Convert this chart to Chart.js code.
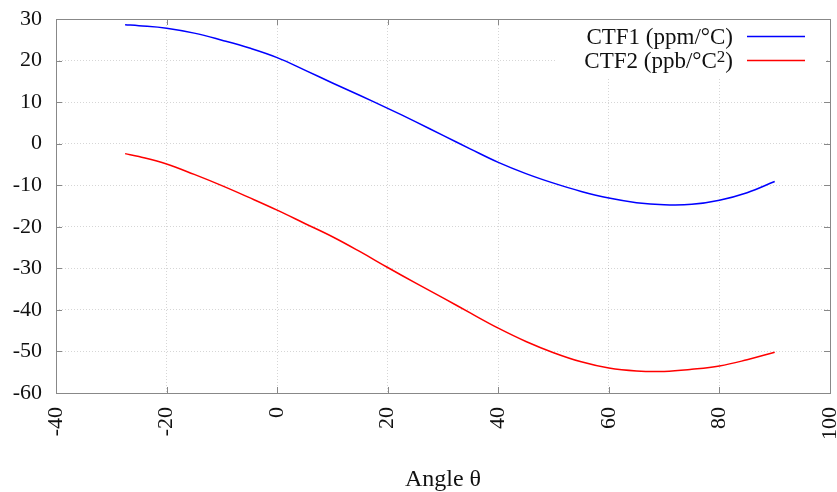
<!DOCTYPE html>
<html>
<head>
<meta charset="utf-8">
<script src="https://cdn.jsdelivr.net/npm/chart.js@4/dist/chart.umd.min.js"></script>
<style>
  html, body { margin: 0; padding: 0; background: #fff; }
  #wrap { width: 837px; height: 492px; }
</style>
</head>
<body>
<div id="wrap"><canvas id="ctf_chart" width="837" height="492"></canvas></div>
<script>
// values
const angle = [-27.5, -25, -20, -15, -10, -5, 0, 5, 10, 15, 20, 25, 30, 35, 40, 45, 50, 55, 60, 65, 70, 75, 80, 85, 90];
const ctf1 = [28.6, 28.4, 27.8, 26.6, 24.9, 23.0, 20.7, 17.7, 14.6, 11.6, 8.5, 5.3, 2.0, -1.3, -4.5, -7.2, -9.5, -11.5, -13.1, -14.2, -14.7, -14.6, -13.6, -11.8, -9.1];
const ctf2 = [-2.4, -3.1, -4.9, -7.4, -10.1, -13.0, -16.0, -19.2, -22.4, -26.0, -29.8, -33.5, -37.1, -40.8, -44.4, -47.6, -50.3, -52.5, -54.0, -54.7, -54.8, -54.3, -53.5, -52.0, -50.2];
const x_ticks = [-40, -20, 0, 20, 40, 60, 80, 100];
const y_ticks = [-60, -50, -40, -30, -20, -10, 0, 10, 20, 30];
const series_labels = ['CTF1 (ppm/°C', 'CTF2 (ppb/°C'];
const series_sup = ['', '2'];
const series_colors = ['#0000ff', '#ff0000'];

const serif = '"Liberation Serif", "Times New Roman", serif';
const frame_color = '#888888';

function to_points(xs, ys) {
    return xs.map((x, i) => ({ x: x, y: ys[i] }));
}

// gnuplot style frame, inward ticks and legend box inside the plot
const frame_plugin = {
    id: 'frame_plugin',
    afterDraw(chart) {
        const ctx = chart.ctx;
        const area = chart.chartArea;
        const xs = chart.scales.x;
        const ys = chart.scales.y;
        ctx.save();
        ctx.strokeStyle = frame_color;
        ctx.lineWidth = 1;
        ctx.beginPath();
        x_ticks.forEach(v => {
            const px = Math.round(xs.getPixelForValue(v)) + 0.5;
            ctx.moveTo(px, area.bottom); ctx.lineTo(px, area.bottom - 6);
            ctx.moveTo(px, area.top); ctx.lineTo(px, area.top + 6);
        });
        y_ticks.forEach(v => {
            const py = Math.round(ys.getPixelForValue(v)) + 0.5;
            ctx.moveTo(area.left, py); ctx.lineTo(area.left + 6, py);
            ctx.moveTo(area.right, py); ctx.lineTo(area.right - 6, py);
        });
        ctx.stroke();
        ctx.strokeRect(Math.round(area.left) + 0.5, Math.round(area.top) + 0.5,
            Math.round(area.right - area.left), Math.round(area.bottom - area.top));

        // legend
        ctx.fillStyle = '#ffffff';
        ctx.fillRect(556, area.top + 1, 270, 58);
        const text_right = 733;
        const font = '23px ' + serif;
        const sup_font = '17px ' + serif;
        const baselines = [44, 68];
        series_labels.forEach((lab, i) => {
            ctx.font = sup_font;
            const sup_w = series_sup[i] ? ctx.measureText(series_sup[i]).width : 0;
            ctx.font = font;
            const close_w = ctx.measureText(')').width;
            const lab_w = ctx.measureText(lab).width;
            let x0 = text_right - close_w - sup_w - lab_w;
            ctx.fillStyle = '#111111';
            ctx.textBaseline = 'alphabetic';
            ctx.textAlign = 'left';
            ctx.fillText(lab, x0, baselines[i]);
            x0 += lab_w;
            if (series_sup[i]) {
                ctx.font = sup_font;
                ctx.fillText(series_sup[i], x0, baselines[i] - 6);
                x0 += sup_w;
                ctx.font = font;
            }
            ctx.fillText(')', x0, baselines[i]);
            const ly = baselines[i] - 7.5;
            ctx.strokeStyle = series_colors[i];
            ctx.lineWidth = 1.5;
            ctx.beginPath();
            ctx.moveTo(747, ly);
            ctx.lineTo(805, ly);
            ctx.stroke();
        });
        ctx.restore();
    }
};

new Chart(document.getElementById('ctf_chart'), {
    type: 'line',
    data: {
        datasets: [{
            label: 'CTF1 (ppm/°C)',
            data: to_points(angle, ctf1),
            borderColor: series_colors[0],
            borderWidth: 1.5,
            pointRadius: 0,
            tension: 0.4,
            fill: false,
        }, {
            label: 'CTF2 (ppb/°C²)',
            data: to_points(angle, ctf2),
            borderColor: series_colors[1],
            borderWidth: 1.5,
            pointRadius: 0,
            tension: 0.4,
            fill: false,
        }]
    },
    options: {
        responsive: false,
        animation: false,
        layout: {
            padding: { top: 19, right: 7, left: 0, bottom: 0 }
        },
        plugins: {
            legend: false,
            tooltip: { enabled: false }
        },
        scales: {
            x: {
                type: 'linear',
                min: -40,
                max: 100,
                afterBuildTicks: (scale) => { scale.ticks = x_ticks.map(v => ({ value: v })); },
                afterFit: (scale) => {
                    scale.height = 99;
                    scale.paddingLeft = 0; scale.paddingRight = 0;
                    scale.paddingTop = 0; scale.paddingBottom = 0;
                },
                ticks: {
                    minRotation: 90,
                    maxRotation: 90,
                    padding: 14,
                    color: '#111111',
                    font: { family: serif, size: 22 }
                },
                grid: { color: 'rgba(0,0,0,0.16)', drawTicks: false },
                border: { display: false, dash: [1, 2] },
                title: {
                    display: true,
                    text: 'Angle θ',
                    color: '#111111',
                    font: { family: serif, size: 24, lineHeight: 1 },
                    padding: { top: 0, bottom: 0 }
                }
            },
            y: {
                min: -60,
                max: 30,
                afterBuildTicks: (scale) => { scale.ticks = y_ticks.map(v => ({ value: v })); },
                afterFit: (scale) => {
                    scale.width = 56;
                    scale.paddingTop = 0; scale.paddingBottom = 0;
                    scale.paddingLeft = 0; scale.paddingRight = 0;
                },
                ticks: {
                    padding: 14,
                    color: '#111111',
                    font: { family: serif, size: 22 }
                },
                grid: { color: 'rgba(0,0,0,0.16)', drawTicks: false },
                border: { display: false, dash: [1, 2] }
            }
        }
    },
    plugins: [frame_plugin]
});
</script>
</body>
</html>
